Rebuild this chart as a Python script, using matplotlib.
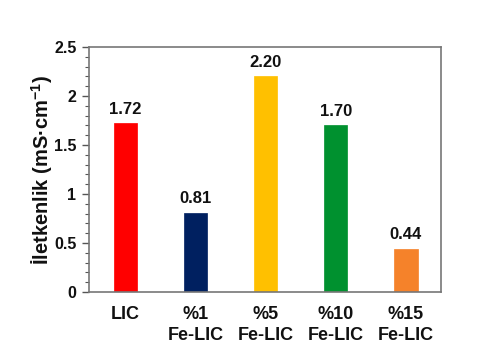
import matplotlib
matplotlib.use('Agg')
import matplotlib.pyplot as plt
from matplotlib.ticker import MultipleLocator

# Data
categories = ['LIC', '%1\nFe-LIC', '%5\nFe-LIC', '%10\nFe-LIC', '%15\nFe-LIC']
values = [1.72, 0.81, 2.20, 1.70, 0.44]
value_labels = ['1.72', '0.81', '2.20', '1.70', '0.44']
colors = ['#FF0000', '#002060', '#FFC000', '#00912F', '#F5822A']

plt.rcParams['font.family'] = ['Liberation Sans', 'DejaVu Sans']
plt.rcParams['font.weight'] = 'bold'
plt.rcParams['mathtext.fontset'] = 'custom'
plt.rcParams['mathtext.bf'] = 'Liberation Sans:bold'
plt.rcParams['mathtext.rm'] = 'Liberation Sans:bold'

fig = plt.figure(figsize=(4.85, 3.6), dpi=100)
ax = fig.add_axes([89 / 485, 1 - 292 / 360, 352 / 485, 245 / 360])

x = range(len(categories))
ax.bar(x, values, width=0.33, color=colors, edgecolor=colors, linewidth=0.5)

for xi, v, lab in zip(x, values, value_labels):
    ax.text(xi, v + 0.07, lab, ha='center', va='bottom', fontsize=12, fontweight='bold', color='#111111')

ax.set_xlim(-0.52, 4.5)
ax.set_ylim(0, 2.5)
ax.set_xticks(list(x))
ax.set_xticklabels(categories, fontsize=13, fontweight='bold', linespacing=1.3, color='#111111')
ax.yaxis.set_minor_locator(MultipleLocator(0.1))
ax.set_yticks([0, 0.5, 1, 1.5, 2, 2.5])
ax.set_yticklabels(['0', '0.5', '1', '1.5', '2', '2.5'], fontsize=11.5, fontweight='bold', color='#111111')

ax.tick_params(axis='x', length=0, pad=10)
ax.tick_params(axis='y', which='major', direction='out', length=5, width=1, color='#555555', pad=4)
ax.tick_params(axis='y', which='minor', direction='out', length=3, width=0.8, color='#555555')

for s in ax.spines.values():
    s.set_color('#777777')
    s.set_linewidth(1.2)

ax.set_ylabel('İletkenlik (mS·cm$^{-1}$)', fontsize=14.5, fontweight='bold', labelpad=-1, color='#111111')

fig.savefig('out.png', dpi=100)
